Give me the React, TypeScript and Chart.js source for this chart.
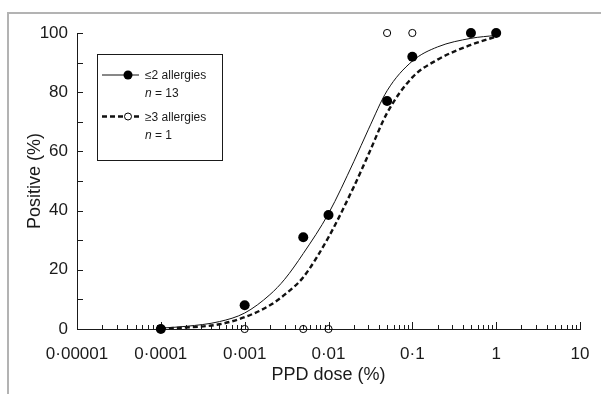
import { useEffect, useRef } from 'react';
import { Chart, registerables } from 'chart.js';

Chart.register(...registerables);

// ---- Data ----
const doseLevels = [0.0001, 0.001, 0.005, 0.01, 0.05, 0.1, 0.5, 1];
const positiveLowAllergy = [0, 8, 31, 38.5, 77, 92, 100, 100];
const positiveHighAllergy = [0, 0, 0, 0, 100, 100, 100, 100];

const fitDoses = [0.0001, 0.0002, 0.0005, 0.001, 0.002, 0.003, 0.005, 0.01, 0.02, 0.03, 0.05, 0.1, 0.2, 0.5, 1];
const fitLowAllergy = [0.3, 0.9, 2.5, 5.4, 11.6, 16.8, 25.5, 39, 56.5, 67.5, 80.5, 90.5, 95.3, 98.2, 99.2];
const fitHighAllergy = [0.2, 0.5, 1.6, 4, 8, 11.6, 17.5, 31, 48, 59, 73, 85, 91, 96, 98.8];

const seriesLabels = ['\u22642 allergies', '\u22653 allergies'];
const seriesCounts = ['13', '1'];

const xDecades = [0.00001, 0.0001, 0.001, 0.01, 0.1, 1, 10];
const xDecadeLabels = ['0\u00B700001', '0\u00B70001', '0\u00B7001', '0\u00B701', '0\u00B71', '1', '10'];
const xMinorSteps = [2, 3, 4, 5, 6, 7, 8, 9];
const yTickStep = 10;
const yLabelStep = 20;

const xTitle = 'PPD dose (%)';
const yTitle = 'Positive (%)';

const INK = '#1a1a1a';
const FONT = "'Liberation Sans', Arial, Helvetica, sans-serif";

const toPoints = (xs: number[], ys: number[]) => xs.map((x, i) => ({ x, y: ys[i] }));

const inwardTicks = {
  id: 'inwardTicks',
  beforeDatasetsDraw(chart: any) {
    const { ctx, chartArea, scales } = chart;
    const x = scales.x;
    const y = scales.y;
    ctx.save();
    ctx.strokeStyle = INK;
    ctx.lineWidth = 1;
    ctx.beginPath();
    x.ticks.forEach((t: any) => {
      const px = Math.round(x.getPixelForValue(t.value)) + 0.5;
      const len = t.major ? 7 : 4;
      ctx.moveTo(px, chartArea.bottom);
      ctx.lineTo(px, chartArea.bottom - len);
    });
    y.ticks.forEach((t: any) => {
      const py = Math.round(y.getPixelForValue(t.value)) + 0.5;
      ctx.moveTo(chartArea.left, py);
      ctx.lineTo(chartArea.left + 6, py);
    });
    ctx.stroke();
    ctx.restore();
  },
};

const boxLegend = {
  id: 'boxLegend',
  afterDraw(chart: any) {
    const { ctx } = chart;
    const ds = chart.data.datasets;
    const pointSets = [ds[0], ds[1]];
    const lineSets = [ds[2], ds[3]];
    ctx.save();
    ctx.strokeStyle = INK;
    ctx.lineWidth = 1;
    ctx.strokeRect(97.5, 54.5, 125, 106);
    const rowY = [75, 116.5];
    seriesLabels.forEach((label, i) => {
      const yy = rowY[i];
      const ls = lineSets[i];
      ctx.beginPath();
      ctx.setLineDash(ls.borderDash || []);
      ctx.lineWidth = ls.borderWidth;
      ctx.strokeStyle = ls.borderColor;
      ctx.moveTo(102, yy);
      ctx.lineTo(139, yy);
      ctx.stroke();
      ctx.setLineDash([]);
      const ps = pointSets[i];
      ctx.beginPath();
      ctx.arc(128, yy, i === 0 ? 4.5 : 3.5, 0, Math.PI * 2);
      if (i === 0) {
        ctx.fillStyle = ps.pointBackgroundColor;
        ctx.fill();
      } else {
        ctx.fillStyle = '#fff';
        ctx.fill();
        ctx.lineWidth = 1;
        ctx.strokeStyle = ps.pointBorderColor;
        ctx.stroke();
      }
      ctx.fillStyle = INK;
      ctx.textBaseline = 'alphabetic';
      ctx.textAlign = 'left';
      ctx.font = `12px ${FONT}`;
      ctx.fillText(label, 145, yy + 4.4);
      const ny = yy + 18 + 4.4;
      ctx.font = `italic 12px ${FONT}`;
      ctx.fillText('n', 145, ny);
      const nw = ctx.measureText('n').width;
      ctx.font = `12px ${FONT}`;
      ctx.fillText(` = ${seriesCounts[i]}`, 145 + nw, ny);
    });
    ctx.restore();
  },
};

export default function App() {
  const canvasRef = useRef<HTMLCanvasElement | null>(null);

  useEffect(() => {
    if (!canvasRef.current) return;
    Chart.defaults.font.family = FONT;
    Chart.defaults.color = INK;
    const chart = new Chart(canvasRef.current, {
      type: 'scatter',
      data: {
        datasets: [
          {
            label: seriesLabels[0],
            data: toPoints(doseLevels, positiveLowAllergy),
            pointRadius: 5,
            pointBackgroundColor: '#000',
            pointBorderWidth: 0,
            pointBorderColor: '#000',
            showLine: false,
            clip: false,
          },
          {
            label: seriesLabels[1],
            data: toPoints(doseLevels, positiveHighAllergy),
            pointRadius: 3.6,
            pointBackgroundColor: 'rgba(0,0,0,0)',
            pointBorderWidth: 1,
            pointBorderColor: '#000',
            showLine: false,
            clip: false,
          },
          {
            label: 'fit ' + seriesLabels[0],
            data: toPoints(fitDoses, fitLowAllergy),
            showLine: true,
            pointRadius: 0,
            borderColor: '#111',
            borderWidth: 1,
            cubicInterpolationMode: 'monotone',
            fill: false,
          },
          {
            label: 'fit ' + seriesLabels[1],
            data: toPoints(fitDoses, fitHighAllergy),
            showLine: true,
            pointRadius: 0,
            borderColor: '#111',
            borderWidth: 2.4,
            borderDash: [5, 3],
            cubicInterpolationMode: 'monotone',
            fill: false,
          },
        ],
      } as any,
      options: {
        responsive: false,
        animation: false,
        events: [],
        layout: { padding: { left: 0, top: 33, right: 21, bottom: 0 } },
        plugins: {
          legend: { display: false },
          tooltip: { enabled: false },
          title: { display: false },
        },
        scales: {
          x: {
            type: 'logarithmic',
            min: xDecades[0],
            max: xDecades[xDecades.length - 1],
            grid: { display: false },
            border: { display: true, color: INK, width: 1 },
            afterBuildTicks: (scale: any) => {
              const t: any[] = [];
              xDecades.forEach((d, i) => {
                t.push({ value: d, major: true });
                if (i < xDecades.length - 1) xMinorSteps.forEach((m) => t.push({ value: d * m, major: false }));
              });
              scale.ticks = t;
            },
            afterFit: (scale: any) => {
              scale.height = 65;
            },
            ticks: {
              autoSkip: false,
              maxRotation: 0,
              minRotation: 0,
              padding: 7,
              color: INK,
              font: { size: 17 },
              callback: (value: any) => {
                const v = Number(value);
                const i = xDecades.findIndex((d) => Math.abs(Math.log10(d) - Math.log10(v)) < 1e-6);
                return i >= 0 ? xDecadeLabels[i] : '';
              },
            },
            title: {
              display: true,
              text: xTitle,
              color: INK,
              font: { size: 18 },
              padding: { top: 8, bottom: 8 },
            },
          },
          y: {
            type: 'linear',
            min: 0,
            max: 100,
            grid: { display: false },
            border: { display: true, color: INK, width: 1 },
            afterFit: (scale: any) => {
              scale.width = 77;
            },
            ticks: {
              stepSize: yTickStep,
              autoSkip: false,
              padding: 1,
              color: INK,
              font: { size: 17 },
              callback: (value: any) => (Number(value) % yLabelStep === 0 ? String(value) : ''),
            },
            title: {
              display: true,
              text: yTitle,
              color: INK,
              font: { size: 18 },
              padding: { top: 24, bottom: 24 },
            },
          },
        },
      } as any,
      plugins: [inwardTicks, boxLegend],
    });
    return () => chart.destroy();
  }, []);

  return (
    <div style={{ position: 'fixed', left: 0, top: 0, width: 601, height: 394, background: '#fff', overflow: 'hidden' }}>
      <div
        style={{
          position: 'absolute',
          left: 7,
          top: 12,
          right: 0,
          bottom: 0,
          borderTop: '2px solid #b3b3b3',
          borderLeft: '2px solid #b3b3b3',
        }}
      />
      <canvas ref={canvasRef} width={601} height={394} style={{ position: 'absolute', left: 0, top: 0 }} />
    </div>
  );
}
